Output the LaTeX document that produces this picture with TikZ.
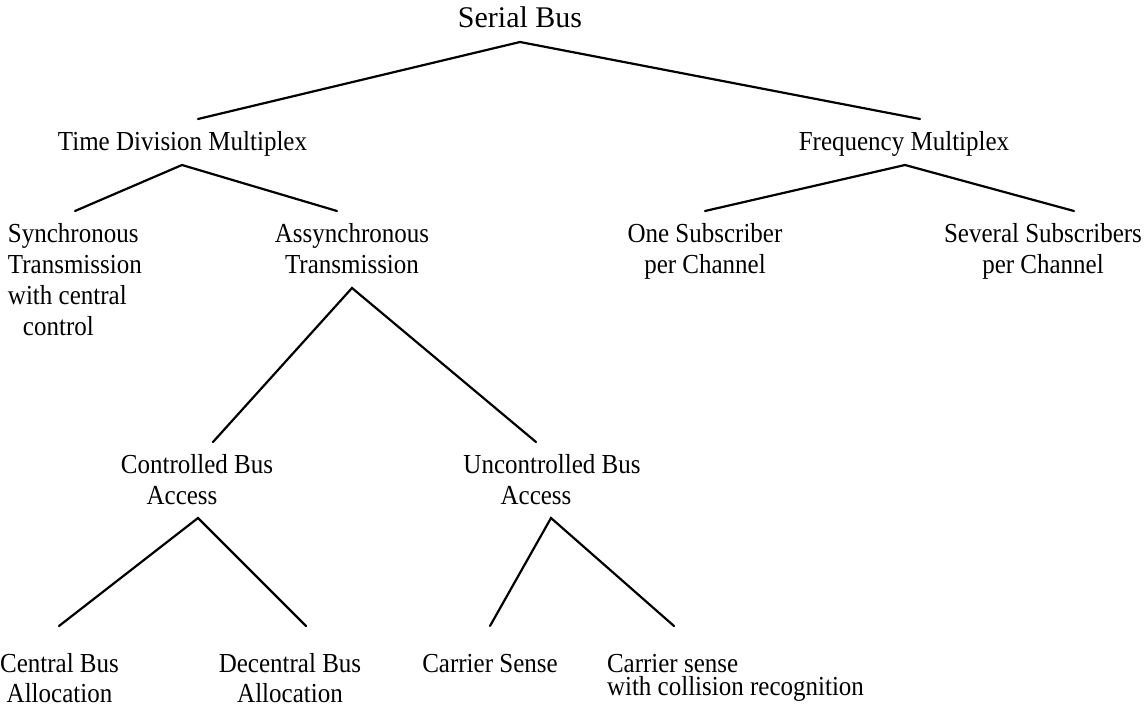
\documentclass[tikz,border=0pt]{standalone}
\usepackage{fontspec}
\setmainfont{Liberation Serif}
\newcommand\Fst{\rule{0pt}{20pt}}
\begin{document}
\begin{tikzpicture}[x=1pt,y=1pt,
  lbl/.style={inner sep=0pt, outer sep=0pt, anchor=north, yshift=22pt, yscale=1.1,
              font=\fontsize{25}{28.2}\selectfont, align=center},
  lbll/.style={lbl, anchor=north west, align=left},
  low/.style={font=\fontsize{25}{27.3}\selectfont},
  conn/.style={line width=2.2pt, line cap=round, line join=miter}]
\useasboundingbox (0,0) rectangle (1144,-706);

% texts
\node[inner sep=0pt, anchor=base, font=\fontsize{30}{36}\selectfont] (sb) at (520,-28) {Serial Bus};
\node[lbl] (tdm) at (182.5,-151) {\Fst Time Division Multiplex};
\node[lbl] (fm)  at (904,-151) {\Fst Frequency Multiplex};
\node[lbll] (syn) at (8,-242) {\Fst Synchronous\\Transmission\\with central\\\hspace*{15pt}control};
\node[lbl] (asy) at (352,-242) {\Fst Assynchronous\\Transmission};
\node[lbl] (one) at (705,-242) {\Fst One Subscriber\\per Channel};
\node[lbl] (sev) at (1043,-242) {\Fst Several Subscribers\\per Channel};
\node[lbl] (cba) at (197,-473) {\Fst Controlled Bus\\Access\hspace*{30pt}};
\node[lbl] (uba) at (552,-473) {\Fst Uncontrolled Bus\\Access\hspace*{32pt}};
\node[lbl,low] (cen) at (59.5,-672) {\Fst Central Bus\\Allocation};
\node[lbl,low] (dec) at (290,-672) {\Fst Decentral Bus\\Allocation};
\node[lbl] (cs)  at (490,-672) {\Fst Carrier Sense};
\node[lbll,font=\fontsize{25}{21.8}\selectfont] (csc) at (607,-672) {\Fst Carrier sense\\with collision recognition};

% connector end points
\coordinate (sb-s)  at (520,-42);
\coordinate (tdm-n) at (198,-119);
\coordinate (fm-n)  at (920,-119);
\coordinate (tdm-s) at (182,-165);
\coordinate (syn-n) at (75,-211);
\coordinate (asy-n) at (337,-211);
\coordinate (fm-s)  at (905,-165);
\coordinate (one-n) at (705,-211);
\coordinate (sev-n) at (1074,-211);
\coordinate (asy-s) at (352,-288);
\coordinate (cba-n) at (213,-442);
\coordinate (uba-n) at (536,-442);
\coordinate (cba-s) at (198,-518);
\coordinate (cen-n) at (59,-626);
\coordinate (dec-n) at (306,-626);
\coordinate (uba-s) at (551,-518);
\coordinate (cs-n)  at (490,-626);
\coordinate (csc-n) at (674,-626);

% connectors
\draw[conn] (tdm-n) -- (sb-s) -- (fm-n);
\draw[conn] (syn-n) -- (tdm-s) -- (asy-n);
\draw[conn] (one-n) -- (fm-s) -- (sev-n);
\draw[conn] (cba-n) -- (asy-s) -- (uba-n);
\draw[conn] (cen-n) -- (cba-s) -- (dec-n);
\draw[conn] (cs-n) -- (uba-s) -- (csc-n);
\end{tikzpicture}
\end{document}
